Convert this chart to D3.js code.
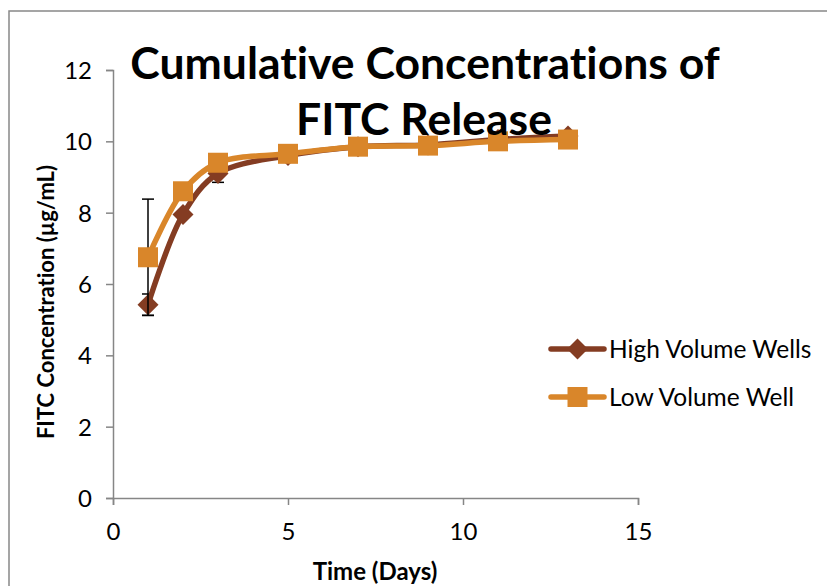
<!DOCTYPE html>
<html><head><meta charset="utf-8">
<script src="https://cdn.jsdelivr.net/npm/d3@7"></script>
<style>body{margin:0;background:#fff}svg{display:block}text{font-variant-ligatures:none}</style>
</head><body>
<svg id="c" width="827" height="586"></svg>
<script>
const days = [1, 2, 3, 5, 7, 9, 11, 13];
const highVolume = [5.42, 7.95, 9.1, 9.6, 9.85, 9.9, 10.05, 10.15];
const highErr = [0.3, 0.1, 0.25, 0.1, 0.1, 0.1, 0.1, 0.1];
const lowVolume = [6.75, 8.6, 9.4, 9.65, 9.85, 9.88, 10.0, 10.05];
const lowErr = [1.63, 0.1, 0.1, 0.1, 0.1, 0.1, 0.1, 0.1];
const xTicks = [0, 5, 10, 15];
const yTicks = [0, 2, 4, 6, 8, 10, 12];
const seriesNames = ["High Volume Wells", "Low Volume Well"];
const colors = ["#843C22", "#D9862A"];

const svg = d3.select("#c");
const font = "Lato, 'Open Sans', sans-serif";
const x = d3.scaleLinear().domain([0, 15]).range([113, 638]);
const y = d3.scaleLinear().domain([0, 12]).range([498, 70]);

// frame
svg.append("path").attr("d", "M9,586 V11 H827").attr("fill", "none")
  .attr("stroke", "#888").attr("stroke-width", 1.5);

// axes
const axisColor = "#868686";
const gx = svg.append("g").attr("transform", "translate(0,498)")
  .call(d3.axisBottom(x).tickValues(xTicks).tickSize(7).tickPadding(18).tickFormat(d3.format("d")));
const gy = svg.append("g").attr("transform", "translate(113,0)")
  .call(d3.axisLeft(y).tickValues(yTicks).tickSize(7).tickPadding(14).tickFormat(d3.format("d")));
[gx, gy].forEach(g => {
  g.select(".domain").attr("stroke", axisColor).attr("stroke-width", 1.5);
  g.selectAll(".tick line").attr("stroke", axisColor).attr("stroke-width", 1.5);
  g.selectAll(".tick text").attr("fill", "#000").attr("font-family", font).attr("font-size", 24);
});
gy.selectAll(".tick text").attr("dy", "0.35em");

const series = [
  {name: seriesNames[0], vals: highVolume, err: highErr, color: colors[0], size: 220, rot: 45},
  {name: seriesNames[1], vals: lowVolume, err: lowErr, color: colors[1], size: 400, rot: 0}
];
const line = d3.line().x(d => x(d[0])).y(d => y(d[1])).curve(d3.curveCatmullRom.alpha(0.5));

series.forEach((s, i) => {
  const pts = days.map((d, j) => [d, s.vals[j], s.err[j]]);
  const g = svg.append("g");
  const eb = g.selectAll(".eb").data(pts).enter().append("g").attr("stroke", "#000").attr("stroke-width", 1.5);
  eb.append("line").attr("x1", d => x(d[0])).attr("x2", d => x(d[0]))
    .attr("y1", d => y(d[1] - d[2])).attr("y2", d => y(d[1] + d[2]));
  eb.append("line").attr("x1", d => x(d[0]) - 6).attr("x2", d => x(d[0]) + 6)
    .attr("y1", d => y(d[1] - d[2])).attr("y2", d => y(d[1] - d[2]));
  eb.append("line").attr("x1", d => x(d[0]) - 6).attr("x2", d => x(d[0]) + 6)
    .attr("y1", d => y(d[1] + d[2])).attr("y2", d => y(d[1] + d[2]));
  g.append("path").datum(pts).attr("d", line).attr("fill", "none")
    .attr("stroke", s.color).attr("stroke-width", 5.5).attr("stroke-linecap", "round");
  g.selectAll(".m").data(pts).enter().append("path")
    .attr("transform", d => `translate(${x(d[0])},${y(d[1])}) rotate(${s.rot})`)
    .attr("d", d3.symbol().type(d3.symbolSquare).size(s.size)).attr("fill", s.color);

  const ly = 349 + i * 48;
  const lg = svg.append("g");
  lg.append("line").attr("x1", 551).attr("x2", 604).attr("y1", ly).attr("y2", ly)
    .attr("stroke", s.color).attr("stroke-width", 5.5).attr("stroke-linecap", "round");
  lg.append("path").attr("transform", `translate(577.5,${ly}) rotate(${s.rot})`)
    .attr("d", d3.symbol().type(d3.symbolSquare).size(s.size)).attr("fill", s.color);
  lg.append("text").attr("x", 609).attr("y", ly).attr("dy", "0.35em")
    .attr("font-family", font).attr("font-size", 24.5).attr("fill", "#000").text(s.name);
});

// title
const t = svg.append("text").attr("text-anchor", "middle").attr("font-family", font)
  .attr("font-weight", "bold").attr("font-size", 44.5).attr("fill", "#000");
t.append("tspan").attr("x", 425).attr("y", 79).text("Cumulative Concentrations of");
t.append("tspan").attr("x", 424).attr("y", 135).text("FITC Release");

// axis titles
svg.append("text").attr("x", 375).attr("y", 580).attr("text-anchor", "middle")
  .attr("font-family", font).attr("font-weight", "bold").attr("font-size", 24).text("Time (Days)");
svg.append("text").attr("transform", "translate(54,302) rotate(-90)").attr("text-anchor", "middle")
  .attr("font-family", font).attr("font-weight", "bold").attr("font-size", 22).text("FITC Concentration (µg/mL)");
</script>
</body></html>
